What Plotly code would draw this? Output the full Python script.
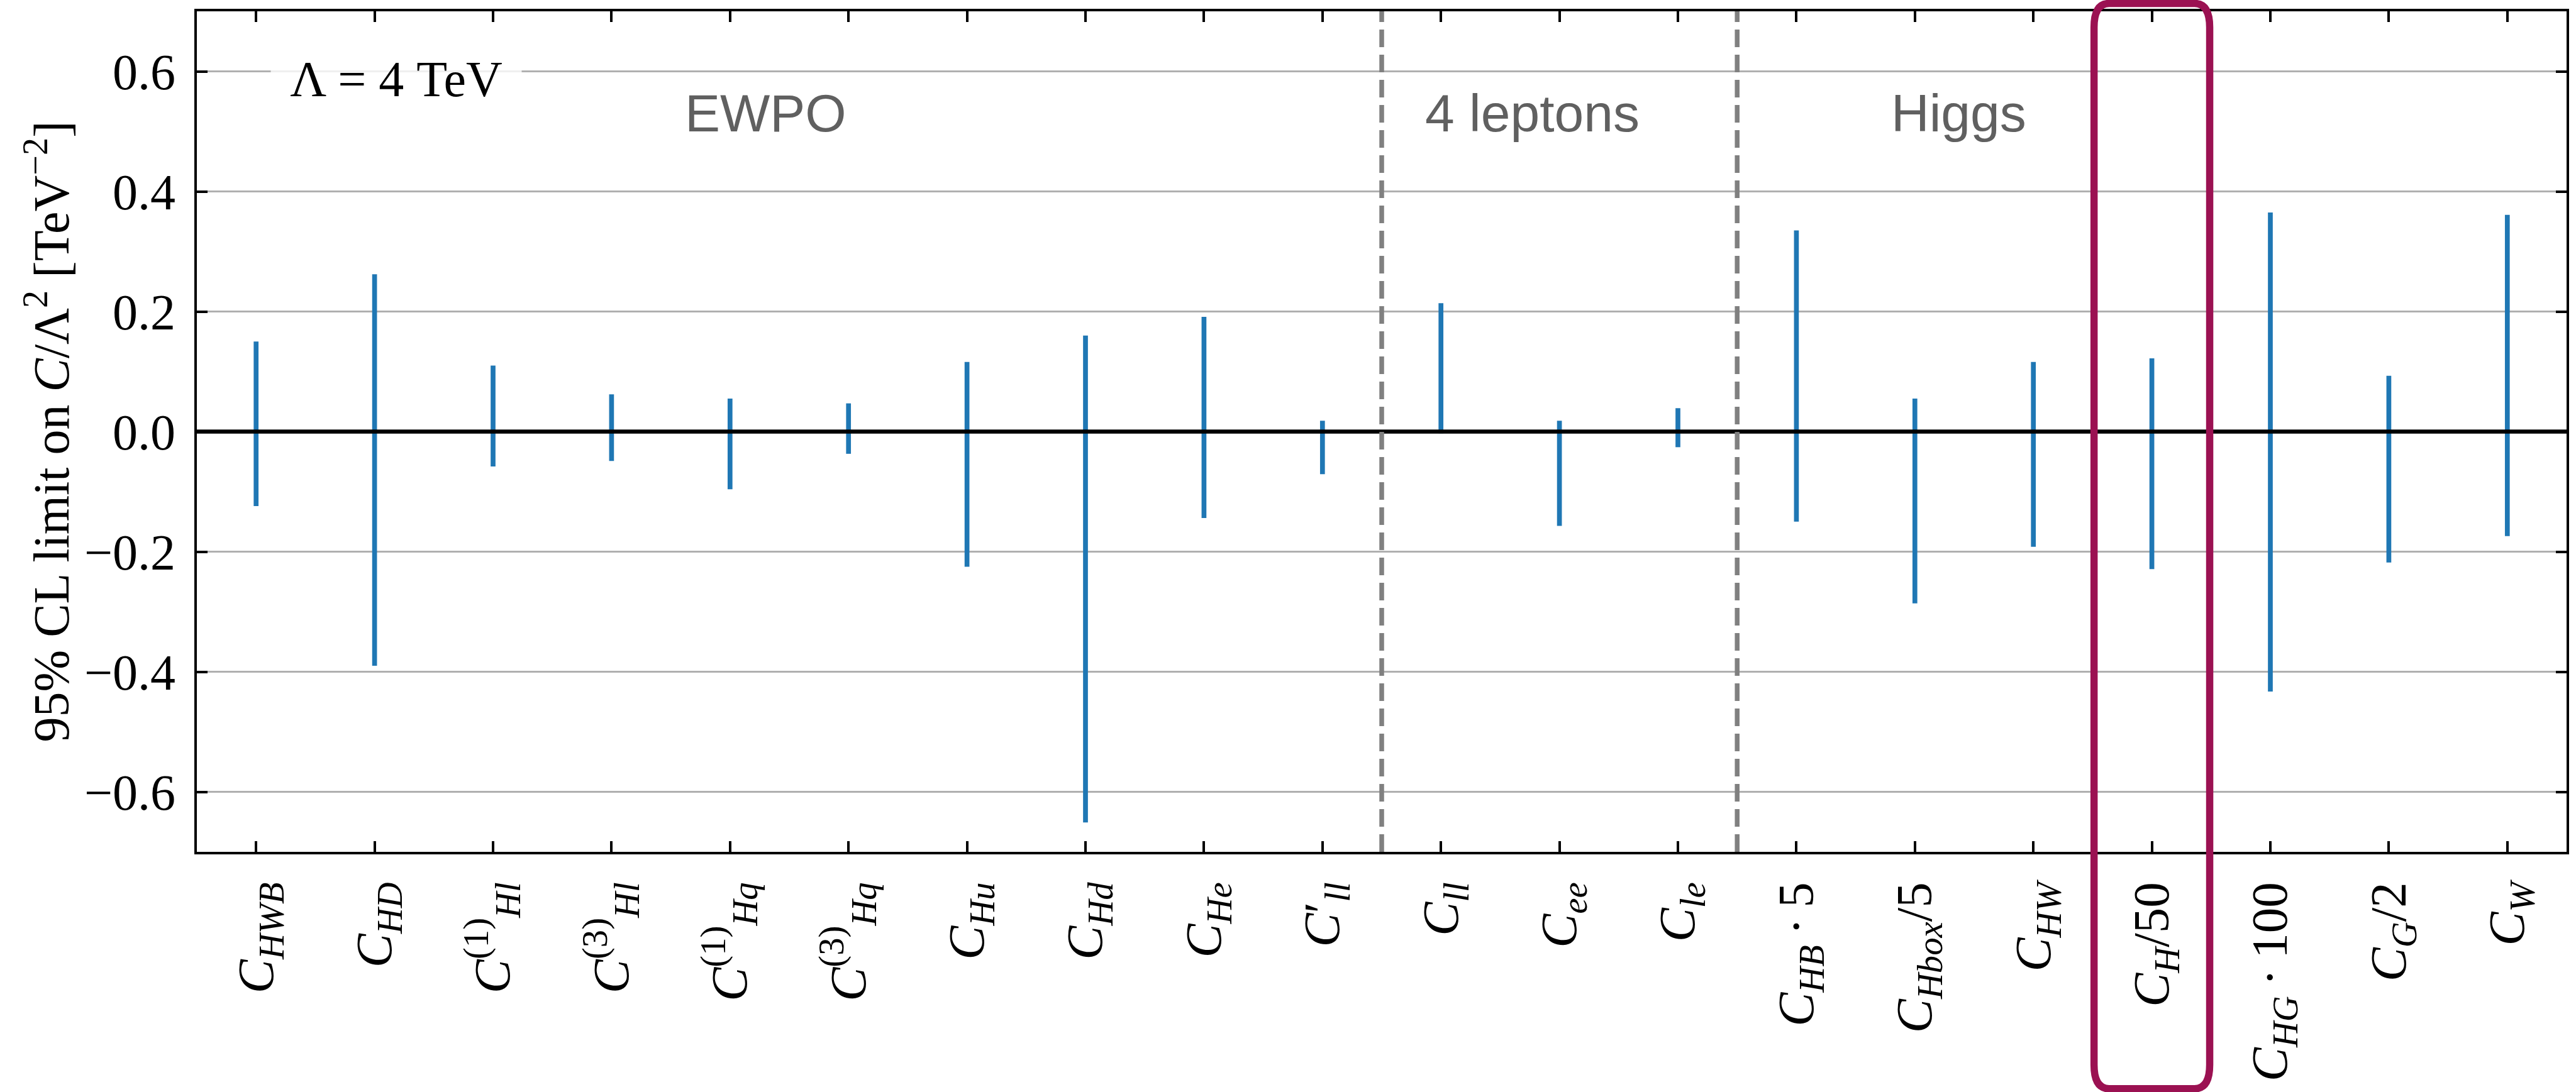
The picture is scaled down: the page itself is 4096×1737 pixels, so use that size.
import plotly.graph_objects as go

# Wilson coefficients shown on the x axis (HTML markup for italics / subscripts)
coefficients = [
    "<i>C</i><sub><i>HWB</i></sub>",
    "<i>C</i><sub><i>HD</i></sub>",
    "<i>C</i><sup>(1)</sup><sub><i>Hl</i></sub>",
    "<i>C</i><sup>(3)</sup><sub><i>Hl</i></sub>",
    "<i>C</i><sup>(1)</sup><sub><i>Hq</i></sub>",
    "<i>C</i><sup>(3)</sup><sub><i>Hq</i></sub>",
    "<i>C</i><sub><i>Hu</i></sub>",
    "<i>C</i><sub><i>Hd</i></sub>",
    "<i>C</i><sub><i>He</i></sub>",
    "<i>C</i>′<sub><i>ll</i></sub>",
    "<i>C</i><sub><i>ll</i></sub>",
    "<i>C</i><sub><i>ee</i></sub>",
    "<i>C</i><sub><i>le</i></sub>",
    "<i>C</i><sub><i>HB</i></sub>\u2009·\u20095",
    "<i>C</i><sub><i>Hbox</i></sub>/5",
    "<i>C</i><sub><i>HW</i></sub>",
    "<i>C</i><sub><i>H</i></sub>/50",
    "<i>C</i><sub><i>HG</i></sub>\u2009·\u2009100",
    "<i>C</i><sub><i>G</i></sub>/2",
    "<i>C</i><sub><i>W</i></sub>",
]

# 95% CL interval on C / Lambda^2 [TeV^-2]
upper = [0.150, 0.262, 0.110, 0.062, 0.055, 0.047, 0.116, 0.160, 0.191, 0.018,
         0.214, 0.018, 0.039, 0.335, 0.055, 0.116, 0.122, 0.365, 0.093, 0.361]
lower = [-0.124, -0.390, -0.058, -0.049, -0.096, -0.037, -0.225, -0.651, -0.144, -0.071,
         -0.003, -0.157, -0.026, -0.150, -0.286, -0.192, -0.229, -0.433, -0.218, -0.174]

y_ticks = [-0.6, -0.4, -0.2, 0.0, 0.2, 0.4, 0.6]

sections = ["EWPO", "4 leptons", "Higgs"]
section_centres = [4.30, 10.77, 14.37]
section_edges = [9.5, 12.5]
highlight = 16
scale_label = "Λ = 4 TeV"

# figure geometry (pixels)
W, H = 4096, 1737
ML, MR, MT, MB = 313, 15, 17.5, 382
PW = W - ML - MR
PH = H - MT - MB
X_RANGE = [-0.5, len(coefficients) - 0.5]
Y_RANGE = [-0.7, 0.7]

SERIF = "Liberation Serif, Times New Roman, serif"
SANS = "Liberation Sans, Arial, sans-serif"


def xpaper(v):
    return (v - X_RANGE[0]) / (X_RANGE[1] - X_RANGE[0])


def ypaper_px(py):
    # pixel row measured from the top of the figure -> paper fraction
    return (MT + PH - py) / PH


# one vertical segment per coefficient
xs, ys = [], []
for i, (lo, hi) in enumerate(zip(lower, upper)):
    xs += [i, i, None]
    ys += [lo, hi, None]

fig = go.Figure()
fig.add_trace(go.Scatter(
    x=xs, y=ys, mode="lines",
    line=dict(color="#1f77b4", width=7.7),
    hoverinfo="skip", showlegend=False,
))

shapes = []
# horizontal zero line
shapes.append(dict(type="line", xref="paper", yref="y", x0=0, x1=1, y0=0, y1=0,
                   line=dict(color="black", width=6.5), layer="above"))
# dashed separators between groups
for edge in section_edges:
    shapes.append(dict(type="line", xref="x", yref="y", x0=edge, x1=edge,
                       y0=Y_RANGE[0], y1=Y_RANGE[1],
                       line=dict(color="#808080", width=7.5, dash="28px,12px"),
                       layer="above"))

# rounded box around the highlighted coefficient
half = 0.488
bx0, bx1 = xpaper(highlight - half), xpaper(highlight + half)
byt, byb = ypaper_px(5.0), ypaper_px(1732)
rx, ry = 24 / PW, 38 / PH
box_path = (
    f"M {bx0},{byb + ry} L {bx0},{byt - ry} Q {bx0},{byt} {bx0 + rx},{byt} "
    f"L {bx1 - rx},{byt} Q {bx1},{byt} {bx1},{byt - ry} "
    f"L {bx1},{byb + ry} Q {bx1},{byb} {bx1 - rx},{byb} "
    f"L {bx0 + rx},{byb} Q {bx0},{byb} {bx0},{byb + ry} Z"
)
shapes.append(dict(type="path", xref="paper", yref="paper", path=box_path,
                   line=dict(color="#9B1152", width=11.5), layer="above"))

annotations = []
for name, xc in zip(sections, section_centres):
    annotations.append(dict(
        x=xc, y=0.530, xref="x", yref="y", text=name, showarrow=False,
        xanchor="center", yanchor="middle",
        font=dict(family=SANS, size=84, color="#606060"),
    ))

annotations.append(dict(
    x=(630 - ML) / PW, y=ypaper_px(125), xref="paper", yref="paper",
    text=scale_label, showarrow=False, xanchor="center", yanchor="middle",
    width=398, height=105, borderpad=0, bgcolor="rgba(255,255,255,0.8)",
    font=dict(family=SERIF, size=80, color="black"),
))

annotations.append(dict(
    x=(76 - ML) / PW, y=0.5, xref="paper", yref="paper",
    text="95% CL limit on <i>C</i>/Λ<sup>2</sup> [TeV<sup>−2</sup>]",
    showarrow=False, textangle=-90, xanchor="center", yanchor="middle",
    font=dict(family=SERIF, size=80, color="black"),
))

fig.update_layout(
    width=W, height=H,
    margin=dict(l=ML, r=MR, t=MT, b=MB, pad=0, autoexpand=False),
    paper_bgcolor="white", plot_bgcolor="white",
    shapes=shapes, annotations=annotations,
    showlegend=False,
)

fig.update_xaxes(
    range=X_RANGE, tickmode="array", automargin=False,
    tickvals=list(range(len(coefficients))), ticktext=coefficients,
    tickangle=-90, showgrid=False, zeroline=False,
    showline=True, linecolor="black", linewidth=3.8, mirror="allticks",
    ticks="inside", ticklen=17.5, tickwidth=3.6, tickcolor="black",
    ticklabelstandoff=12,
    tickfont=dict(family=SERIF, size=81, color="black"),
)
fig.update_yaxes(
    range=Y_RANGE, tickmode="array", tickvals=y_ticks, tickformat=".1f",
    automargin=False,
    showgrid=True, gridcolor="#b0b0b0", gridwidth=3, zeroline=False,
    showline=True, linecolor="black", linewidth=3.8, mirror="allticks",
    ticks="inside", ticklen=17.5, tickwidth=3.6, tickcolor="black",
    ticklabelstandoff=14,
    tickfont=dict(family=SERIF, size=80, color="black"),
)

fig.write_html("out.html")
